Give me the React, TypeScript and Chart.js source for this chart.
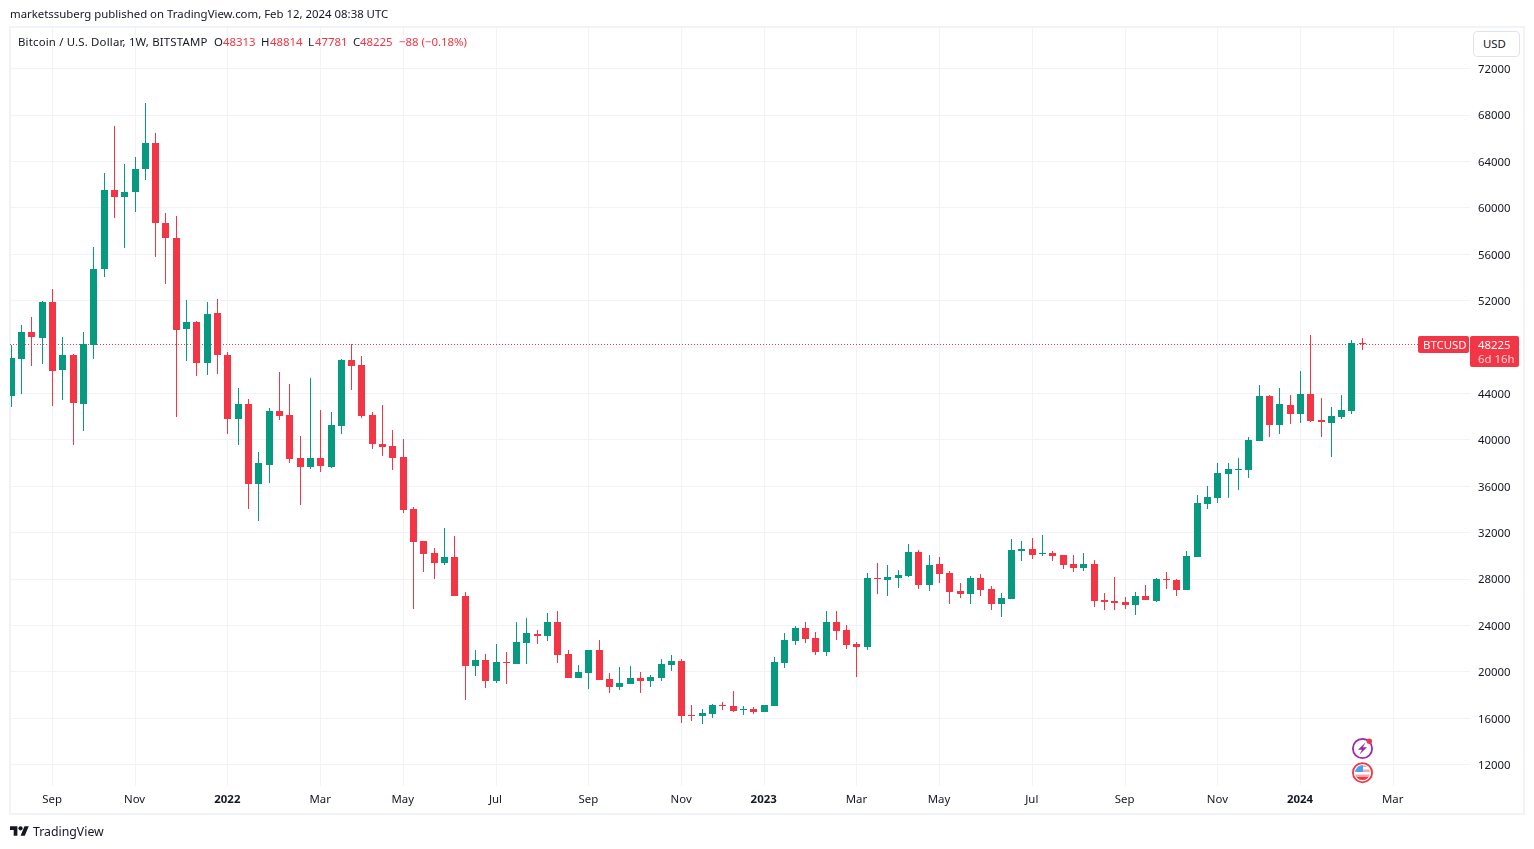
import React, { useEffect, useRef } from "react";
import { Chart, registerables } from "chart.js";

Chart.register(...registerables);

const opens = [
  43821,47013,49313,48738,51900,46064,47329,43131,48220,54689,
  61560,60899,61330,63314,65614,58714,57420,49514,50175,46668,
  50951,47329,41838,43103,36231,37851,42480,42135,38426,37679,
  38426,37679,41215,46879,46447,42135,39634,39461,38512,34027,
  31267,30232,29399,29887,26524,20515,21004,19221,20847,20675,
  22482,23256,23084,24288,21535,19471,19901,21880,19385,18697,
  18955,19471,19213,19471,20589,20933,16289,16203,16375,17149,
  17063,16748,16805,16547,17063,20762,22654,23772,22912,21708,
  24288,23600,22396,22138,28073,27901,28073,28245,30309,27470,
  29277,28503,26954,26696,28073,27126,25836,26266,30395,30567,
  30165,30222,30050,29276,28932,29276,26180,26094,26008,25750,
  26524,26094,27986,27900,27040,29878,34449,34966,37038,37383,
  37383,39886,43770,41267,42993,42216,43943,41699,41440,41957,42475,48313,
];
const closes = [
  47070,49313,48824,51900,45978,47329,43218,48278,54746,61560,
  60899,61388,63371,65614,58656,57363,49428,50175,46668,50865,
  47358,41838,43103,36231,38014,42480,42049,38369,37679,38426,
  37765,41272,46879,46390,42077,39662,39404,38455,33970,31210,
  30175,29399,29887,26552,20515,21004,19221,20847,20761,22568,
  23342,23084,24288,21449,19471,19987,21880,19299,18697,19041,
  19471,19213,19557,20675,20933,16203,16203,16461,17149,17063,
  16633,16834,16547,17149,20847,22740,23772,22826,21708,24288,
  23514,22310,22138,28073,27987,28159,28331,30309,27470,29191,
  28417,26868,26696,28073,27040,25836,26352,30481,30567,30051,
  30222,29964,29190,28932,29276,26094,26008,25922,25750,26524,
  26180,27986,27900,27040,29964,34535,35053,37124,37469,37469,
  39972,43770,41267,43080,42216,43943,41612,41526,42044,42562,48344,48225,
];
const highs = [
  48191,49916,50606,51986,53021,48881,47415,49313,56644,63026,
  67080,63803,64406,69064,66476,59576,59318,52073,50261,51900,
  52159,47588,44483,43534,38963,42739,45844,44809,40324,45326,
  42566,42394,46965,48259,47224,42394,42997,40841,40065,34200,
  31267,30664,32389,31699,26869,21866,21521,22384,21707,24288,
  24632,23600,25062,25234,21880,20589,21880,22740,19901,20417,
  20503,19987,19729,21105,21449,21105,17149,16805,17235,17407,
  18353,17063,16977,17149,21277,23342,23944,24288,23428,25234,
  25234,24030,22568,28503,29363,29191,28761,30997,30481,30051,
  29879,28675,27643,28245,28417,27384,26782,31427,31255,31513,
  31771,30394,30050,30050,30222,29620,26782,28158,26438,26868,
  27470,28072,28588,27986,30394,35225,36002,37987,37987,38419,
  40231,44719,43856,44460,43856,45928,49035,43597,42821,43856,48603,48814,
];
const lows = [
  42873,43994,46409,46581,42959,43476,39595,40803,47013,53999,
  59088,56500,59605,62365,55724,53395,42010,46840,45546,45633,
  45719,40544,39595,34075,33040,36299,41732,38024,34401,37506,
  37247,37592,40525,44291,41905,39231,38627,37420,33711,25431,
  28622,28019,29226,26552,17560,19652,18617,19049,18955,20675,
  20675,22396,22654,20761,19471,19471,18525,19299,18181,18439,
  18955,18181,18697,19213,20073,15601,15773,15515,16031,16719,
  16547,16289,16375,16547,17063,20332,22310,22482,21450,21364,
  22740,21966,19558,21880,26696,26524,27212,28159,27126,26954,
  27643,25836,26352,25836,26524,25320,24718,26266,29535,29707,
  29964,29534,28846,28588,28674,25578,25320,25320,25406,24890,
  26180,26008,27126,26524,27040,29878,34046,34564,34966,35657,
  36693,39886,40231,40490,41353,41440,41526,40231,38505,41785,42216,47781,
];

const timeTickIndexes = [4, 12, 21, 30, 38, 47, 56, 65, 73, 82, 90, 99, 108, 117, 125, 134];
const timeTickLabels = ["Sep", "Nov", "2022", "Mar", "May", "Jul", "Sep", "Nov", "2023", "Mar", "May", "Jul", "Sep", "Nov", "2024", "Mar"];
const priceTicks = [12000, 16000, 20000, 24000, 28000, 32000, 36000, 40000, 44000, 48000, 52000, 56000, 60000, 64000, 68000, 72000];
const lastPrice = 48225;

const UP = "#089981";
const DOWN = "#F23645";
const GRID = "#f2f3f6";
const TEXT = "#131722";
const FONT = "'Noto Sans', sans-serif";
const FONT_SIZE = 11.4;

const candleIndexes = opens.map((_, i) => i);
const colors = candleIndexes.map((i) => (closes[i] >= opens[i] ? UP : DOWN));

const snapPlugin = {
  id: "snapCandles",
  afterDatasetsUpdate(chart: any) {
    chart.data.datasets.forEach((_: any, d: number) => {
      chart.getDatasetMeta(d).data.forEach((el: any) => {
        el.x = Math.floor(el.x) + 0.5;
        const top = Math.round(el.y);
        let bottom = Math.round(el.base);
        if (bottom <= top) bottom = top + 1;
        el.y = top;
        el.base = bottom;
      });
    });
  },
};

const lastPricePlugin = {
  id: "lastPrice",
  beforeDatasetsDraw(chart: any) {
    const { ctx, chartArea, scales } = chart;
    const y = Math.floor(scales.y.getPixelForValue(lastPrice)) + 0.5;
    ctx.save();
    ctx.strokeStyle = DOWN;
    ctx.lineWidth = 1;
    ctx.setLineDash([1, 2]);
    ctx.beginPath();
    ctx.moveTo(chartArea.left, y);
    ctx.lineTo(1418, y);
    ctx.stroke();
    ctx.restore();
  },
  afterDraw(chart: any) {
    const { ctx, scales } = chart;
    const y = Math.floor(scales.y.getPixelForValue(lastPrice)) + 0.5;
    ctx.save();
    ctx.fillStyle = DOWN;
    ctx.beginPath();
    ctx.roundRect(1418, y - 8.5, 51, 17, 2);
    ctx.fill();
    ctx.beginPath();
    ctx.roundRect(1470, y - 8.5, 49, 31, 2);
    ctx.fill();
    ctx.font = `${FONT_SIZE}px ${FONT}`;
    ctx.textBaseline = "middle";
    ctx.textAlign = "left";
    ctx.fillStyle = "#ffffff";
    ctx.fillText("BTCUSD", 1423, y + 1);
    ctx.fillText(String(lastPrice), 1478, y + 1);
    ctx.fillStyle = "rgba(255,255,255,0.78)";
    ctx.fillText("6d 16h", 1478, y + 15.5);
    ctx.restore();
  },
};

const textStyle = (left: number, top: number, color: string, size = FONT_SIZE): React.CSSProperties => ({
  position: "absolute",
  left,
  top,
  color,
  fontFamily: FONT,
  fontSize: size,
  lineHeight: "16px",
  whiteSpace: "nowrap",
});

export default function App() {
  const ref = useRef<HTMLCanvasElement | null>(null);

  useEffect(() => {
    document.body.style.margin = "0";
    document.body.style.background = "#ffffff";
    const step = 10.313;
    const origin = 11.3;
    const chart = new Chart(ref.current as HTMLCanvasElement, {
      type: "bar",
      data: {
        datasets: [
          {
            label: "wick",
            data: candleIndexes.map((i) => ({ x: i, y: [lows[i], highs[i]] })) as any,
            backgroundColor: colors,
            barThickness: 1,
            grouped: false,
            inflateAmount: 0,
            borderWidth: 0,
            order: 2,
          },
          {
            label: "body",
            data: candleIndexes.map((i) => ({
              x: i,
              y: [Math.min(opens[i], closes[i]), Math.max(opens[i], closes[i])],
            })) as any,
            backgroundColor: colors,
            barThickness: 7,
            grouped: false,
            inflateAmount: 0,
            borderWidth: 0,
            order: 1,
          },
        ],
      },
      options: {
        responsive: false,
        animation: false,
        devicePixelRatio: 1,
        events: [],
        layout: { padding: { left: 10, top: 28, right: 0, bottom: 0 } },
        plugins: { legend: { display: false }, tooltip: { enabled: false }, title: { display: false } },
        scales: {
          x: {
            type: "linear",
            offset: false,
            min: (10 - origin) / step,
            max: (1470 - origin) / step,
            bounds: "data",
            border: { display: false },
            grid: { color: GRID, drawTicks: false, offset: false },
            afterBuildTicks: (s: any) => {
              s.ticks = timeTickIndexes.map((value) => ({ value }));
            },
            afterFit: (s: any) => {
              s.height = 63;
            },
            ticks: {
              autoSkip: false,
              maxRotation: 0,
              padding: 7,
              labelOffset: -0.5,
              color: TEXT,
              includeBounds: false,
              callback: (_v: any, i: number) => timeTickLabels[i],
              font: (ctx: any) => ({
                family: FONT,
                size: FONT_SIZE,
                weight: /^\d+$/.test(timeTickLabels[ctx.index] ?? "") ? "bold" : "normal",
              }),
            },
          } as any,
          y: {
            type: "linear",
            position: "right",
            min: 10160,
            max: 75505,
            bounds: "data",
            border: { display: false },
            grid: { color: GRID, drawTicks: false },
            afterBuildTicks: (s: any) => {
              s.ticks = priceTicks.map((value) => ({ value }));
            },
            afterFit: (s: any) => {
              s.width = 64;
            },
            ticks: {
              padding: 8,
              labelOffset: 1,
              color: TEXT,
              font: { family: FONT, size: FONT_SIZE },
              callback: (v: any) => String(v),
            },
          } as any,
        },
      },
      plugins: [snapPlugin, lastPricePlugin],
    });
    return () => chart.destroy();
  }, []);

  return (
    <div style={{ position: "absolute", left: 0, top: 0, width: 1534, height: 849, overflow: "hidden", background: "#fff" }}>
      <div style={{ position: "absolute", left: 9, top: 26, width: 1516, height: 789, boxSizing: "border-box", border: "2px solid #f0f3fa" }} />
      <canvas ref={ref} width={1534} height={849} style={{ position: "absolute", left: 0, top: 0, display: "block" }} />

      <div style={textStyle(10, 6, TEXT)}>marketssuberg published on TradingView.com, Feb 12, 2024 08:38 UTC</div>
      <div style={{ ...textStyle(18, 34, TEXT), letterSpacing: "0.18px" }}>Bitcoin / U.S. Dollar, 1W, BITSTAMP</div>
      <div style={textStyle(214, 34, TEXT)}>O</div>
      <div style={textStyle(223, 34, DOWN)}>48313</div>
      <div style={textStyle(261, 34, TEXT)}>H</div>
      <div style={textStyle(270, 34, DOWN)}>48814</div>
      <div style={textStyle(308, 34, TEXT)}>L</div>
      <div style={textStyle(315, 34, DOWN)}>47781</div>
      <div style={textStyle(353, 34, TEXT)}>C</div>
      <div style={textStyle(360, 34, DOWN)}>48225</div>
      <div style={textStyle(399, 34, DOWN)}>−88 (−0.18%)</div>

      <div style={{ position: "absolute", left: 1473, top: 31, width: 47, height: 26, boxSizing: "border-box", border: "1px solid #e0e3eb", borderRadius: 4, background: "#fff", color: TEXT, fontFamily: FONT, fontSize: FONT_SIZE, lineHeight: "24px", paddingLeft: 9 }}>USD</div>

      <svg style={{ position: "absolute", left: 1350, top: 736 }} width={26} height={50} viewBox="0 0 26 50">
        <circle cx={12.5} cy={12.5} r={9.6} fill="#fff" stroke="#9c27b0" strokeWidth={1.8} />
        <path d="M15.5 6.5 L8 13.8 H12 L9.5 18.5 L17 11.2 H13 Z" fill="#9c27b0" />
        <circle cx={19.3} cy={5.3} r={2.7} fill="#f23645" />
        <circle cx={12.5} cy={36.7} r={9.6} fill="#fff" stroke="#f23645" strokeWidth={1.8} />
        <clipPath id="fl"><circle cx={12.5} cy={36.7} r={7.4} /></clipPath>
        <g clipPath="url(#fl)">
          <rect x={3} y={28} width={20} height={3} fill="#f7a5ab" />
          <rect x={3} y={33.5} width={20} height={2.5} fill="#f7a5ab" />
          <rect x={3} y={38.5} width={20} height={2.5} fill="#f7a5ab" />
          <rect x={3} y={41} width={20} height={4} fill="#f23645" />
          <rect x={3} y={28} width={10} height={8} fill="#42a5f5" />
        </g>
      </svg>

      <svg style={{ position: "absolute", left: 10, top: 824 }} width={19} height={15} viewBox="0 0 36 28">
        <path d="M14 22H7V11H0V4h14v18zM28 22h-8l7.5-18h8L28 22z" fill={TEXT} />
        <circle cx={20} cy={8} r={4} fill={TEXT} />
      </svg>
      <div style={textStyle(33, 824, TEXT, 12.3)}>TradingView</div>
    </div>
  );
}
